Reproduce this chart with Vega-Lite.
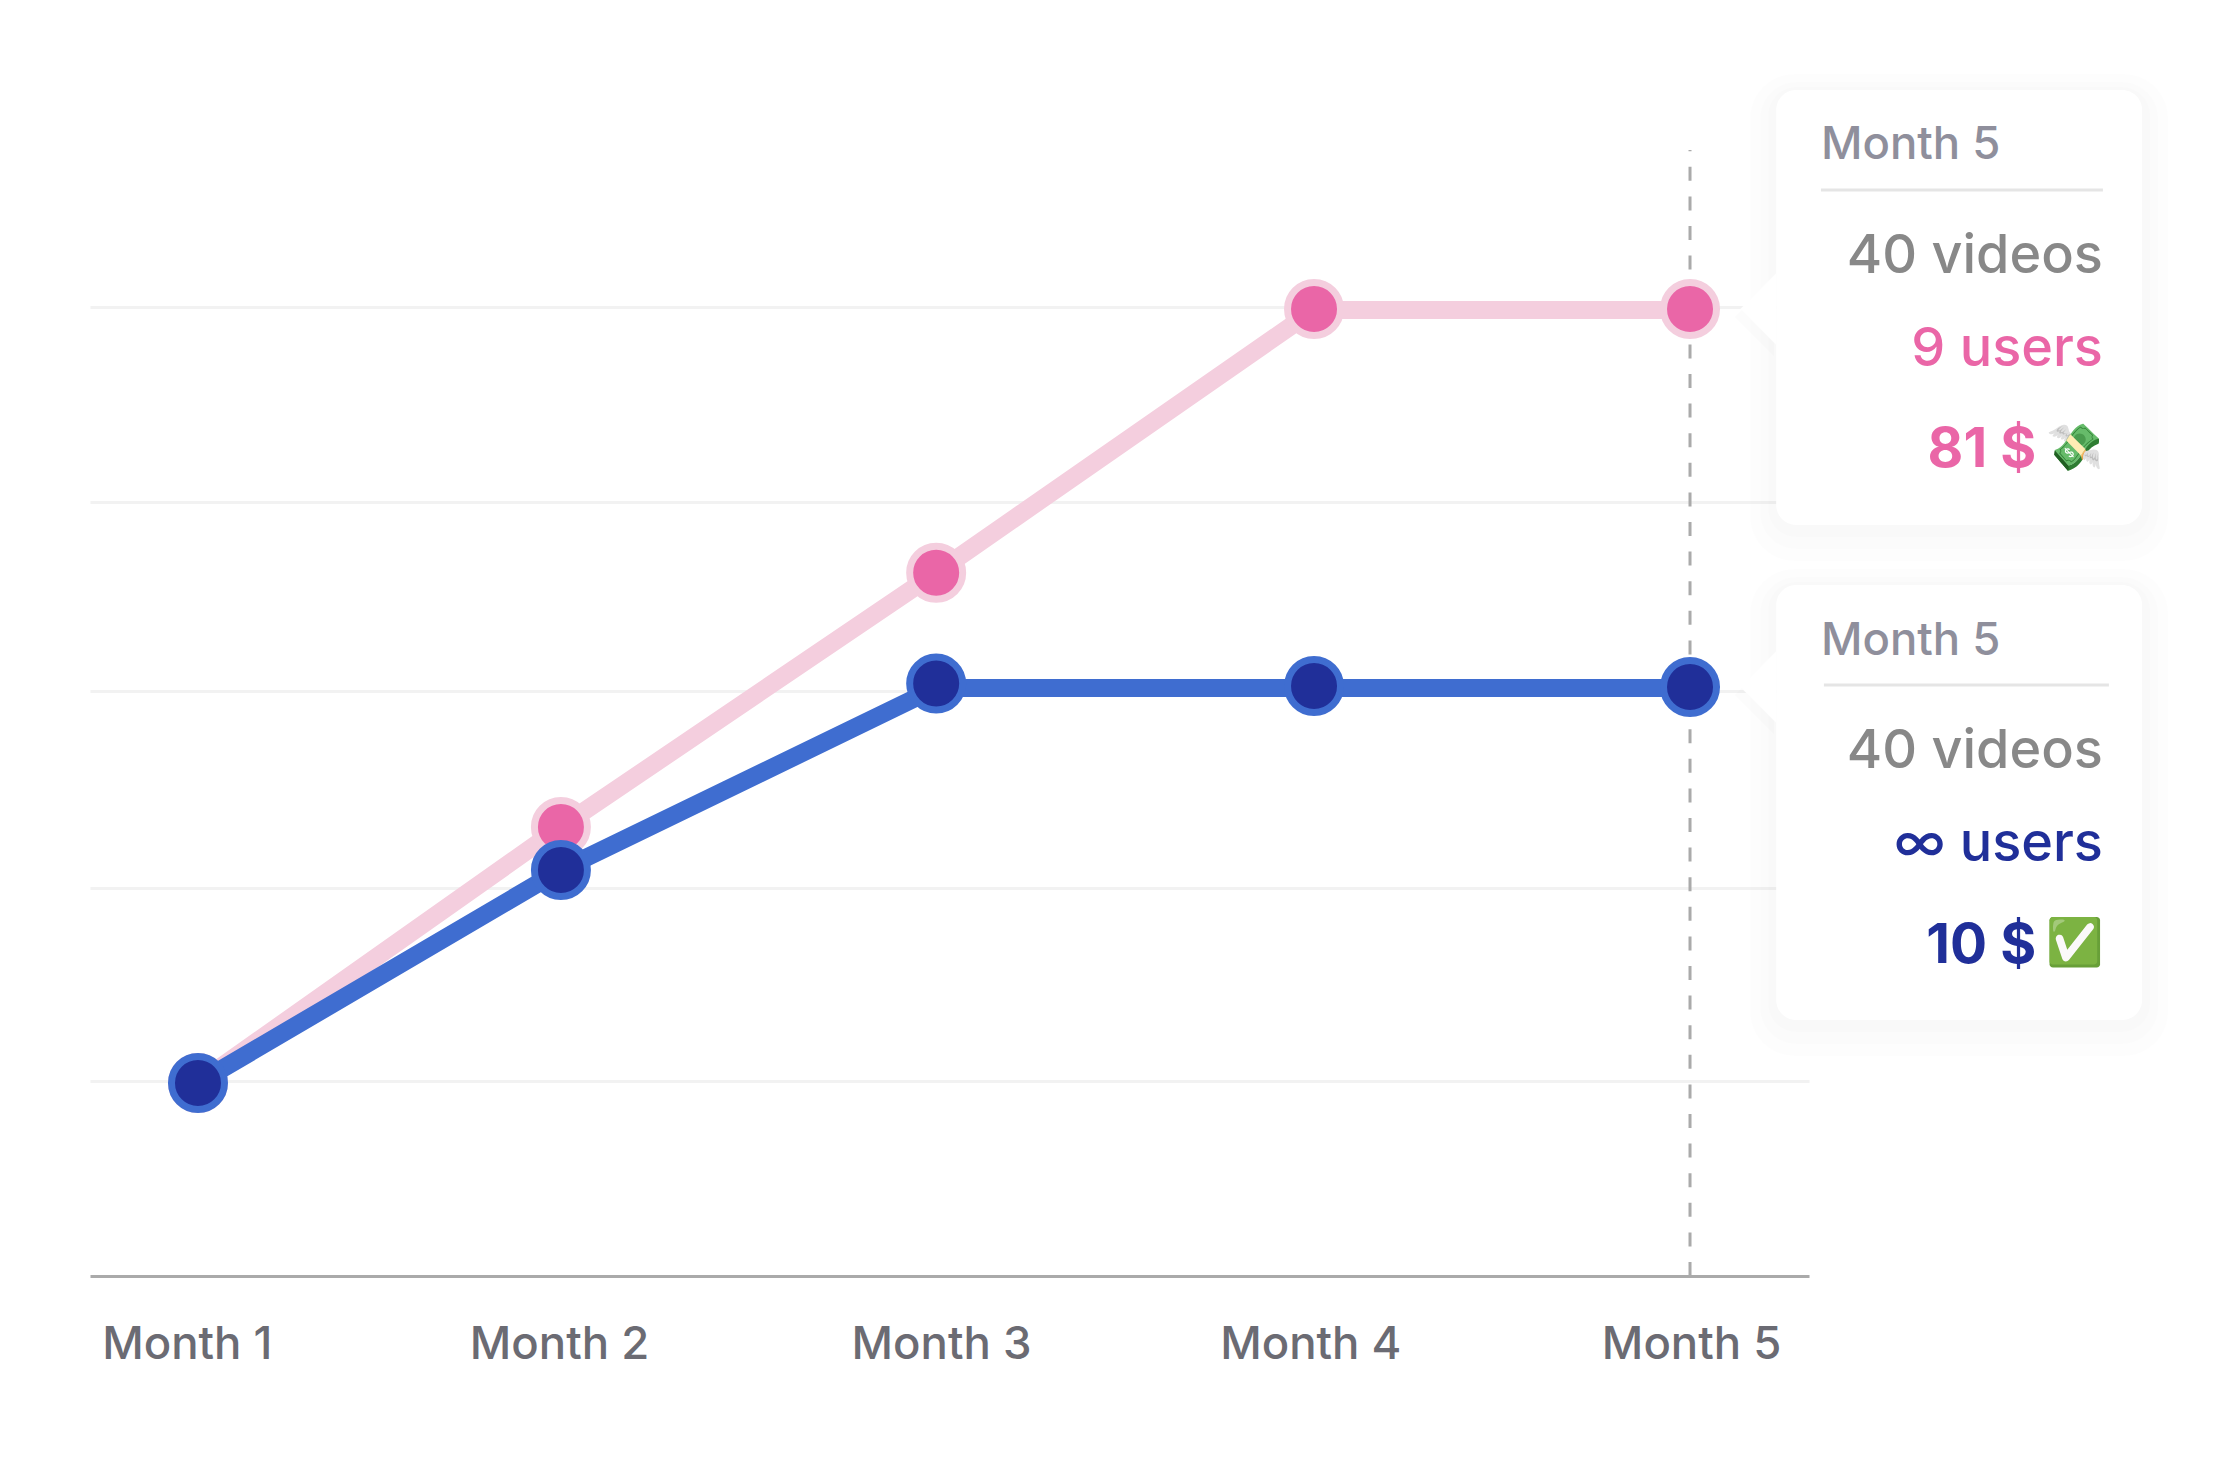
{
"$schema":"https://vega.github.io/schema/vega-lite/v6.json",
"width":1719,"height":1126,
"autosize":{"type":"none"},
"padding":{"left":90,"top":150,"right":423,"bottom":185},
"background":"#ffffff",
"config":{"view":{"stroke":null},"font":"Inter"},
"datasets":{
"series":[
{"month":"Month 1","x":1,"series":"pink","v":17.14,"dot":17.14},
{"month":"Month 2","x":1.973,"series":"pink","v":39.88,"dot":39.88},
{"month":"Month 3","x":2.979,"series":"pink","v":62.46,"dot":62.46},
{"month":"Month 4","x":3.992,"series":"pink","v":85.79,"dot":85.88},
{"month":"Month 5","x":5,"series":"pink","v":85.79,"dot":85.88},
{"month":"Month 1","x":1,"series":"blue","v":17.14,"dot":17.14},
{"month":"Month 2","x":1.973,"series":"blue","v":36.06,"dot":36.06},
{"month":"Month 3","x":2.979,"series":"blue","v":52.22,"dot":52.61},
{"month":"Month 4","x":3.992,"series":"blue","v":52.22,"dot":52.4},
{"month":"Month 5","x":5,"series":"blue","v":52.22,"dot":52.31}],
"cards":[{"series":"pink","x0":5.231,"x1":6.212,"y0":66.7,"y1":105.33,"tipx":5.183,"tipy":85.88,"divx0":5.351,"divx1":6.107,"divy":96.45},
{"series":"blue","x0":5.231,"x1":6.212,"y0":22.74,"y1":61.37,"tipx":5.183,"tipy":52.31,"divx0":5.359,"divx1":6.123,"divy":52.49}],
"texts":[
{"role":"header","label":"Month 5","x":5.351,"y":99.2},
{"role":"videos","label":"40 videos","x":6.107,"y":89.08},
{"role":"pink","label":"9 users","x":6.107,"y":80.8},
{"role":"pinkmoney","label":"81 $","x":5.928,"y":71.85},
{"role":"emoji","label":"💸","x":6.107,"y":72.2},
{"role":"header","label":"Month 5","x":5.351,"y":55.15},
{"role":"videos","label":"40 videos","x":6.107,"y":45.1},
{"role":"blue","label":"∞ users","x":6.107,"y":36.86},
{"role":"bluemoney","label":"10 $","x":5.928,"y":27.8},
{"role":"emoji","label":"✅","x":6.107,"y":28.2}]
},
"encoding":{
"x":{"field":"x","type":"quantitative","scale":{"domain":[0.7105,5.319],"nice":false,"zero":false},
"axis":{"title":null,"grid":false,"ticks":false,"domainColor":"#aaaaaa","domainWidth":3,"values":[0.97,1.968,2.992,3.982,5.003],"labelExpr":"'Month ' + round(datum.value)","labelFont":"Inter","labelFontSize":45.5,"labelFontWeight":500,"labelLimit":400,"labelColor":"#6b6b73","labelBaseline":"alphabetic","labelPadding":82,"labelOverlap":false,"labelFlush":false,"zindex":0}},
"y":{"field":"v","type":"quantitative","scale":{"domain":[0,100],"nice":false},
"axis":{"title":null,"domain":false,"ticks":false,"labels":false,"grid":true,"gridColor":"#f2f2f2","gridWidth":3,"values":[17.32,34.46,51.95,68.74,86.06],"zindex":0}}
},
"layer":[
{"data":{"values":[{"x":5,"v":0},{"x":5,"v":100}]},"mark":{"type":"line","stroke":"#aaaaaa","strokeWidth":3,"strokeDash":[14,15.6],"clip":false},"encoding":{"order":{"field":"v"}}},
{"data":{"name":"series"},"transform":[{"filter":"datum.series==='pink'"}],"mark":{"type":"line","stroke":"#f4cede","strokeWidth":18}},
{"data":{"name":"series"},"transform":[{"filter":"datum.series==='pink'"}],"mark":{"type":"point","filled":true,"fill":"#ea66a7","stroke":"#f4cede","strokeWidth":7,"size":2809,"opacity":1,"shape":"circle"},"encoding":{"y":{"field":"dot"}}},
{"data":{"name":"series"},"transform":[{"filter":"datum.series==='blue'"}],"mark":{"type":"line","stroke":"#3f6dd0","strokeWidth":18}},
{"data":{"name":"series"},"transform":[{"filter":"datum.series==='blue'"}],"mark":{"type":"point","filled":true,"fill":"#202f99","stroke":"#3f6dd0","strokeWidth":7,"size":2809,"opacity":1,"shape":"circle"},"encoding":{"y":{"field":"dot"}}},
{"data":{"name":"cards"},"mark":{"type":"rect","fill":"#000000","opacity":0.006,"cornerRadius":44,"xOffset":-26,"x2Offset":26,"yOffset":-16,"y2Offset":36},"encoding":{"x":{"field":"x0"},"x2":{"field":"x1"},"y":{"field":"y1"},"y2":{"field":"y0"}}},
{"data":{"name":"cards"},"mark":{"type":"rect","fill":"#000000","opacity":0.006,"cornerRadius":36,"xOffset":-16,"x2Offset":16,"yOffset":-8,"y2Offset":24},"encoding":{"x":{"field":"x0"},"x2":{"field":"x1"},"y":{"field":"y1"},"y2":{"field":"y0"}}},
{"data":{"name":"cards"},"mark":{"type":"rect","fill":"#000000","opacity":0.007,"cornerRadius":28,"xOffset":-8,"x2Offset":8,"yOffset":-3,"y2Offset":12},"encoding":{"x":{"field":"x0"},"x2":{"field":"x1"},"y":{"field":"y1"},"y2":{"field":"y0"}}},
{"data":{"name":"cards"},"mark":{"type":"point","filled":true,"fill":"#000000","opacity":0.012,"size":6400,"yOffset":8,"xOffset":-4,"shape":"M -0.5 0 L 0.5 -1 L 0.5 1 Z"},"encoding":{"x":{"field":"tipx"},"y":{"field":"tipy"}}},
{"data":{"name":"cards"},"mark":{"type":"point","filled":true,"fill":"#ffffff","opacity":1,"size":5184,"shape":"M -0.5 0 L 0.5 -1 L 0.5 1 Z"},"encoding":{"x":{"field":"tipx"},"y":{"field":"tipy"}}},
{"data":{"name":"cards"},"mark":{"type":"rect","fill":"#ffffff","cornerRadius":20},"encoding":{"x":{"field":"x0"},"x2":{"field":"x1"},"y":{"field":"y1"},"y2":{"field":"y0"}}},
{"data":{"name":"cards"},"mark":{"type":"rule","stroke":"#e5e5e5","strokeWidth":3},"encoding":{"x":{"field":"divx0"},"x2":{"field":"divx1"},"y":{"field":"divy"}}},
{"data":{"name":"texts"},"transform":[{"filter":"datum.role==='header'"}],"mark":{"type":"text","align":"left","baseline":"alphabetic","font":"Inter","fontSize":45.5,"fontWeight":500,"fill":"#8f8f9c"},"encoding":{"y":{"field":"y"},"text":{"field":"label"}}},
{"data":{"name":"texts"},"transform":[{"filter":"indexof(['videos','pink','blue'],datum.role)>=0"}],"mark":{"type":"text","align":"right","baseline":"alphabetic","font":"Inter","fontSize":54,"fontWeight":500},
"encoding":{"y":{"field":"y"},"text":{"field":"label"},
"color":{"field":"role","type":"nominal","legend":null,"scale":{"domain":["videos","pink","blue","pinkmoney","bluemoney"],"range":["#888888","#ea66a7","#202f99","#ea66a7","#202f99"]}}}},
{"data":{"name":"texts"},"transform":[{"filter":"indexof(['pinkmoney','bluemoney'],datum.role)>=0"}],"mark":{"type":"text","align":"right","baseline":"alphabetic","font":"Inter","fontSize":55,"fontWeight":700},
"encoding":{"y":{"field":"y"},"text":{"field":"label"},
"color":{"field":"role","type":"nominal","legend":null}}},
{"data":{"name":"texts"},"transform":[{"filter":"datum.role==='emoji'"}],"mark":{"type":"text","align":"right","baseline":"alphabetic","font":"Inter","fontSize":46},
"encoding":{"y":{"field":"y"},"text":{"field":"label"}}}
]
}
